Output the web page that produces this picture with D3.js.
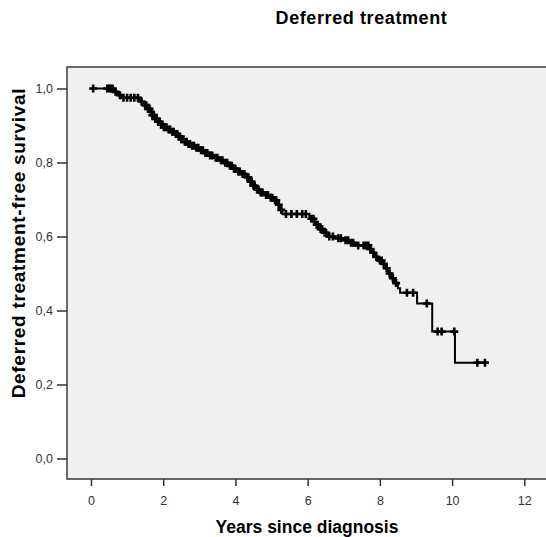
<!DOCTYPE html>
<meta charset="utf-8">
<script src="https://d3js.org/d3.v7.min.js"></script>
<style>
  body { margin: 0; background: #fff; }
  text { font-family: Arial, "Liberation Sans", sans-serif; }
</style>
<div id="chart"></div>
<script>
// Kaplan-Meier steps: time (years) and survival after each drop
var eventTimes = [0.62, 0.75, 0.85, 1.35, 1.45, 1.55, 1.63, 1.70, 1.78, 1.86, 1.93, 2.00,
  2.10, 2.20, 2.30, 2.40, 2.48, 2.57, 2.66, 2.75, 2.87, 3.00, 3.12, 3.25, 3.40, 3.55,
  3.66, 3.80, 3.92, 4.02, 4.15, 4.28, 4.38, 4.46, 4.55, 4.66, 4.78, 4.92, 5.05, 5.14,
  5.24, 5.30, 6.05, 6.20, 6.30, 6.42, 6.53, 6.75, 6.95, 7.15, 7.30, 7.70, 7.78, 7.85,
  7.95, 8.08, 8.15, 8.22, 8.32, 8.40, 8.50, 8.56, 9.03, 9.45, 10.08];
var survival = [0.991, 0.982, 0.975, 0.965, 0.955, 0.945, 0.937, 0.928, 0.918, 0.910, 0.902, 0.895,
  0.889, 0.883, 0.877, 0.870, 0.863, 0.856, 0.850, 0.845, 0.840, 0.833, 0.826, 0.819, 0.813, 0.806,
  0.799, 0.791, 0.783, 0.776, 0.769, 0.760, 0.748, 0.737, 0.727, 0.719, 0.712, 0.705, 0.698, 0.686,
  0.672, 0.661, 0.648, 0.632, 0.620, 0.610, 0.600, 0.595, 0.590, 0.583, 0.576, 0.566, 0.556, 0.545,
  0.535, 0.526, 0.514, 0.500, 0.487, 0.474, 0.460, 0.448, 0.419, 0.343, 0.259];
// censored observations
var censorTimes = [0.06, 0.45, 0.50, 0.55, 0.60, 0.68, 0.80, 0.90, 1.00, 1.10, 1.20, 1.30,
  1.40, 1.50, 1.53, 1.58, 1.62, 1.66, 1.70, 1.74, 1.78, 1.82, 1.86, 1.90, 1.94, 1.97, 2.02,
  2.05, 2.09, 2.15, 2.19, 2.25, 2.29, 2.35, 2.39, 2.45, 2.50, 2.52, 2.56, 2.60, 2.65, 2.70,
  2.74, 2.80, 2.85, 2.92, 2.97, 3.05, 3.10, 3.17, 3.22, 3.30, 3.36, 3.45, 3.50, 3.60, 3.64,
  3.72, 3.77, 3.85, 3.90, 3.96, 4.00, 4.08, 4.12, 4.20, 4.25, 4.33, 4.36, 4.42, 4.45, 4.50,
  4.53, 4.60, 4.64, 4.70, 4.75, 4.85, 4.90, 4.98, 5.02, 5.10, 5.13, 5.20, 5.27, 5.40, 5.55,
  5.70, 5.85, 5.95, 6.10, 6.16, 6.25, 6.28, 6.36, 6.40, 6.47, 6.51, 6.60, 6.70, 6.85, 6.92,
  7.05, 7.12, 7.20, 7.26, 7.40, 7.55, 7.62, 7.68, 7.74, 7.82, 7.90, 8.00, 8.05, 8.11, 8.19,
  8.27, 8.36, 8.45, 8.75, 8.92, 9.30, 9.60, 9.71, 10.06, 10.70, 10.91];
var xTicks = [0, 2, 4, 6, 8, 10, 12];
var yTicks = [0, 0.2, 0.4, 0.6, 0.8, 1.0];

var width = 546, height = 537;
var svg = d3.select("#chart").append("svg").attr("width", width).attr("height", height);

var x = d3.scaleLinear().domain([0, 12]).range([91, 524.3]);
var y = d3.scaleLinear().domain([0, 1]).range([458.5, 88.5]);

var box = { left: 67, top: 67, bottom: 479 };

// plot background
svg.append("rect")
  .attr("x", box.left).attr("y", box.top)
  .attr("width", width + 20 - box.left).attr("height", box.bottom - box.top)
  .style("fill", "#f0f0f0").style("stroke", "#3a3a3a").style("stroke-width", 1.5);

// survival at time t
function survAt(t) {
  var i = d3.bisectRight(eventTimes, t);
  return i === 0 ? 1 : survival[i - 1];
}

var pts = [[censorTimes[0], 1]];
eventTimes.forEach(function(t, i) { pts.push([t, survival[i]]); });
pts.push([censorTimes[censorTimes.length - 1], survAt(censorTimes[censorTimes.length - 1])]);

var line = d3.line()
  .x(function(d) { return x(d[0]); })
  .y(function(d) { return y(d[1]); })
  .curve(d3.curveStepAfter);

svg.append("path").datum(pts)
  .attr("d", line)
  .style("fill", "none").style("stroke", "#000").style("stroke-width", 2);

// censor crosses
var cross = svg.selectAll(".cens").data(censorTimes).enter().append("g")
  .attr("transform", function(t) { return "translate(" + x(t) + "," + y(survAt(t)) + ")"; });
cross.append("path")
  .attr("d", "M-4,0H4M0,-4V4")
  .style("stroke", "#000").style("stroke-width", 2.6);

// x axis
var xAxis = svg.append("g").attr("transform", "translate(0," + box.bottom + ")")
  .call(d3.axisBottom(x).tickValues(xTicks).tickSize(7).tickPadding(10));
xAxis.select(".domain").remove();
xAxis.selectAll("line").style("stroke", "#333").style("stroke-width", 1.5);
xAxis.selectAll("text").style("font-size", "12.5px").style("fill", "#333")
  .style("font-family", "Arial, 'Liberation Sans', sans-serif");

// y axis
var fmt = function(d) { return d3.format(".1f")(d).replace(".", ","); };
var yAxis = svg.append("g").attr("transform", "translate(" + box.left + ",0)")
  .call(d3.axisLeft(y).tickValues(yTicks).tickFormat(fmt).tickSize(10).tickPadding(4));
yAxis.select(".domain").remove();
yAxis.selectAll("line").style("stroke", "#333").style("stroke-width", 1.5);
yAxis.selectAll("text").style("font-size", "12.5px").style("fill", "#333")
  .style("font-family", "Arial, 'Liberation Sans', sans-serif");

// titles
svg.append("text").attr("x", 361.5).attr("y", 24)
  .attr("text-anchor", "middle").style("font-weight", "bold").style("font-size", "18px")
  .style("letter-spacing", "0.6px")
  .text("Deferred treatment");
svg.append("text").attr("x", 307).attr("y", 533)
  .attr("text-anchor", "middle").style("font-weight", "bold").style("font-size", "17.5px")
  .text("Years since diagnosis");
svg.append("text").attr("transform", "translate(25,243) rotate(-90)")
  .attr("text-anchor", "middle").style("font-weight", "bold").style("font-size", "19px")
  .style("letter-spacing", "0.7px")
  .text("Deferred treatment-free survival");
</script>
